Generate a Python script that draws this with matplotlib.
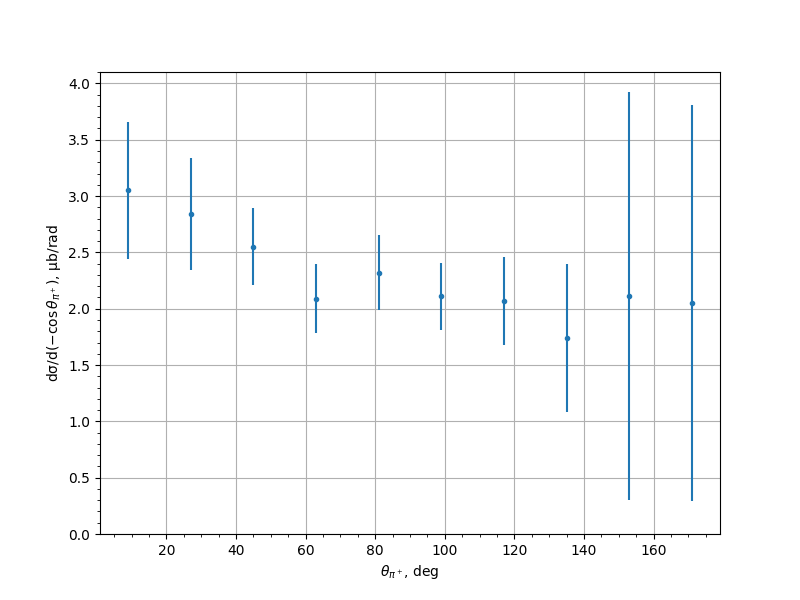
import numpy as np
import matplotlib
matplotlib.use("Agg")
import matplotlib.pyplot as plt

# pion angle bins (deg) and cross section values
theta = [9, 27, 45, 63, 81, 99, 117, 135, 153, 171]
dsigma = [3.05, 2.84, 2.55, 2.09, 2.32, 2.11, 2.07, 1.74, 2.11, 2.05]
dsigma_err = [0.61, 0.50, 0.34, 0.31, 0.33, 0.30, 0.39, 0.66, 1.81, 1.76]


fig, ax = plt.subplots(figsize=(8, 6), dpi=100)
ax.errorbar(theta, dsigma, yerr=dsigma_err, fmt='.')
ax.set_ylim(bottom=0)
ax.minorticks_on()
ax.grid(which='major')
ax.set_xlabel(r'$\theta_{\pi^+}$, deg')
ax.set_ylabel(r'dσ/d($-\cos\theta_{\pi^+}$), μb/rad')

fig.savefig('out.png')
